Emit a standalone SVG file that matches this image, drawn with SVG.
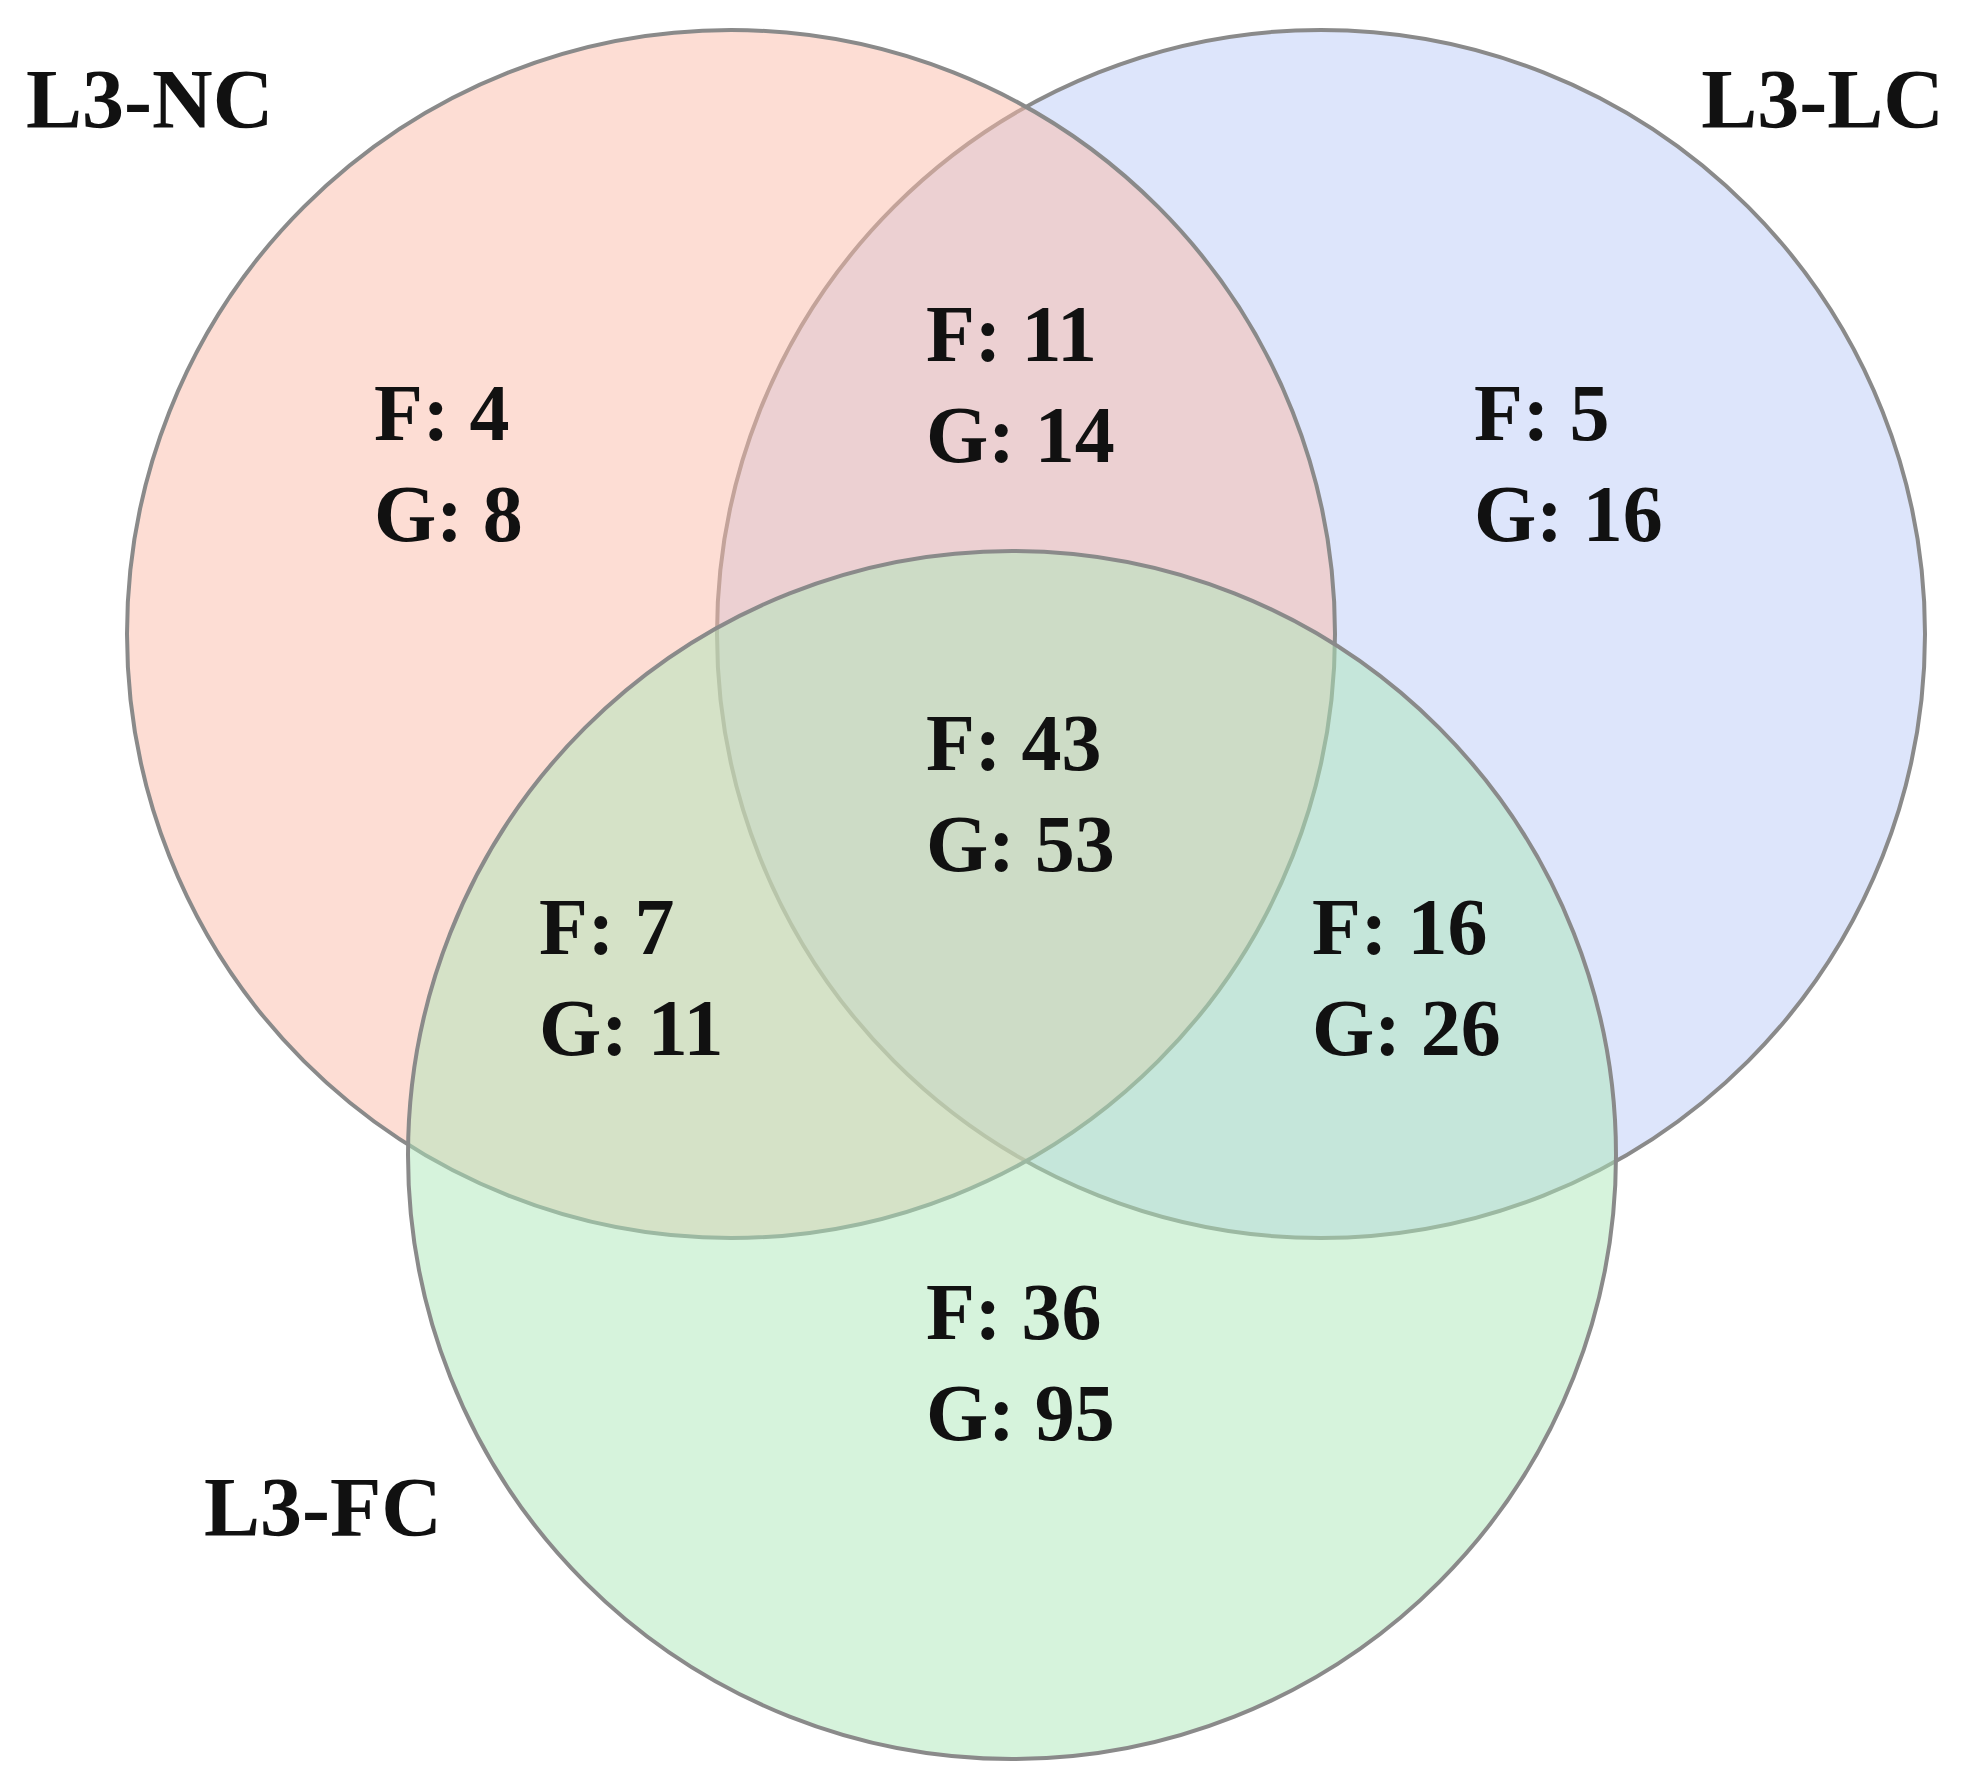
<svg xmlns="http://www.w3.org/2000/svg" width="1980" height="1784" viewBox="0 0 1980 1784">
<style>
.c{stroke:#8a8a8a;stroke-width:4}
.t{font-family:"Liberation Serif",serif;font-weight:bold;font-size:80px;fill:#111}
.l{font-family:"Liberation Serif",serif;font-weight:bold;font-size:84px;fill:#111}
</style>
<rect width="1980" height="1784" fill="#fff"/>
<g id="LC"><circle class="c" cx="1321" cy="634" r="604" fill="#bccbf7" fill-opacity="0.5"/></g>
<g id="NC"><circle class="c" cx="731" cy="634" r="604" fill="#fbbba9" fill-opacity="0.5"/></g>
<g id="FC"><circle class="c" cx="1012" cy="1155" r="604" fill="#aee8b9" fill-opacity="0.5"/></g>
<g id="labels">
<text class="l" x="26" y="128">L3-NC</text>
<text class="l" x="1944" y="128" text-anchor="end">L3-LC</text>
<text class="l" x="204" y="1536">L3-FC</text>
<text class="t" x="374" y="440">F: 4</text><text class="t" x="374" y="541">G: 8</text>
<text class="t" x="926" y="361">F: 11</text><text class="t" x="926" y="462">G: 14</text>
<text class="t" x="1474" y="440">F: 5</text><text class="t" x="1474" y="541">G: 16</text>
<text class="t" x="926" y="770">F: 43</text><text class="t" x="926" y="871">G: 53</text>
<text class="t" x="539" y="954">F: 7</text><text class="t" x="539" y="1055">G: 11</text>
<text class="t" x="1312" y="954">F: 16</text><text class="t" x="1312" y="1055">G: 26</text>
<text class="t" x="926" y="1339">F: 36</text><text class="t" x="926" y="1440">G: 95</text>
</g>
<g id="connectors"/>
</svg>
